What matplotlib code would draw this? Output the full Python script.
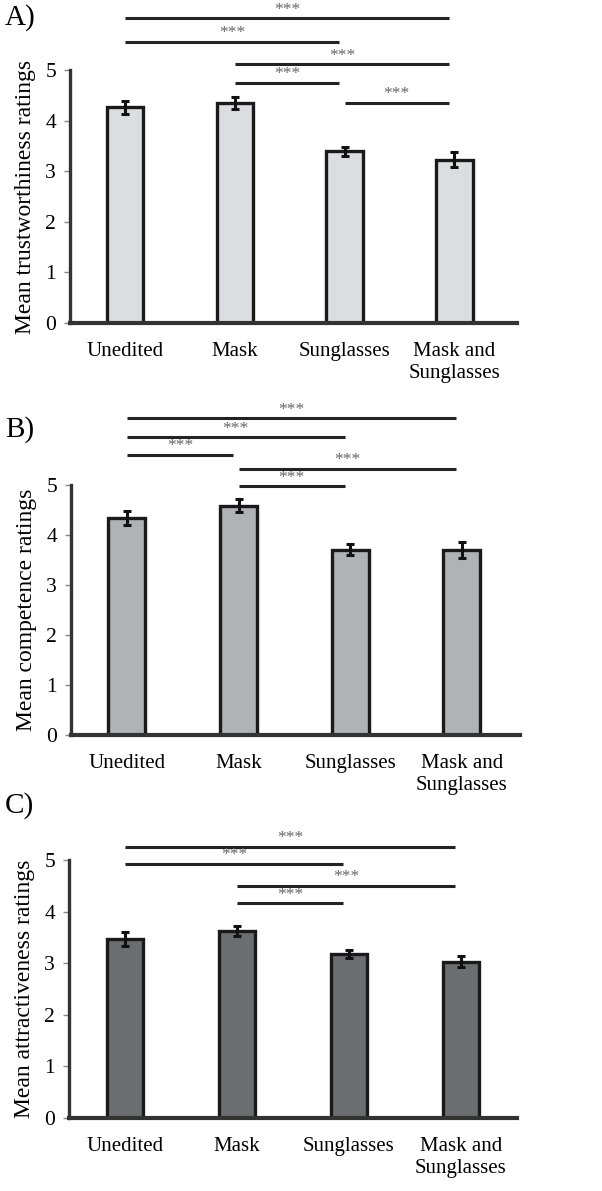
import matplotlib.pyplot as plt
import numpy as np

plt.rcParams['font.family'] = ['Liberation Serif', 'DejaVu Serif']

categories = ['Unedited', 'Mask', 'Sunglasses', 'Mask and\nSunglasses']

# panel A - trustworthiness
trust_mean = [4.26, 4.34, 3.39, 3.23]
trust_err = [0.13, 0.12, 0.09, 0.14]
trust_pairs = [(0, 3), (0, 2), (1, 3), (1, 2), (2, 3)]

# panel B - competence
comp_mean = [4.33, 4.58, 3.70, 3.70]
comp_err = [0.14, 0.13, 0.11, 0.16]
comp_pairs = [(0, 3), (0, 2), (0, 1), (1, 3), (1, 2)]

# panel C - attractiveness
attr_mean = [3.47, 3.63, 3.18, 3.03]
attr_err = [0.13, 0.10, 0.08, 0.11]
attr_pairs = [(0, 3), (0, 2), (1, 3), (1, 2)]

W, H = 602, 1191
fig = plt.figure(figsize=(W / 100, H / 100), dpi=100)


def panel(box, means, errs, pairs, heights, color, ylabel, letter, letter_y, xmax):
    # box in pixels: left, y of zero line, right, y of 5 line (from top)
    left, y0, right, y5 = box
    ax = fig.add_axes([left / W, 1 - y0 / H, (right - left) / W, (y0 - y5) / H])
    x = np.arange(len(means))
    ax.bar(x, means, width=0.33, color=color, edgecolor='#1a1a1a', linewidth=2.4, zorder=2)
    ax.errorbar(x, means, yerr=errs, fmt='none', ecolor='#111111', elinewidth=2.2,
                capsize=3, capthick=2.2, zorder=3)
    ax.set_xlim(-0.5, xmax)
    ax.set_ylim(0, 5)
    ax.set_yticks(range(6))
    ax.tick_params(axis='y', length=4, width=1, color='#888888', labelsize=15.5, pad=6)
    ax.tick_params(axis='x', length=0, labelsize=15, pad=14)
    ax.set_xticks(x)
    ax.set_xticklabels(categories, linespacing=1.2)
    for lab in ax.get_xticklabels():
        lab.set_verticalalignment('top')
    for s in ['top', 'right']:
        ax.spines[s].set_visible(False)
    ax.spines['left'].set_linewidth(2.4)
    ax.spines['left'].set_color('#333333')
    ax.spines['bottom'].set_linewidth(3)
    ax.spines['bottom'].set_color('#333333')
    ax.set_ylabel(ylabel, fontsize=17, labelpad=7)
    for (a, b), h in zip(pairs, heights):
        ax.plot([a, b - 0.05], [h, h], color='#222222', lw=2.2, clip_on=False,
                solid_capstyle='butt')
        ax.text((a + b - 0.05) / 2, h + 0.015, '***', ha='center', va='bottom',
                fontsize=12.5, color='#666666', clip_on=False)
    fig.text(5 / W, 1 - letter_y / H, letter, fontsize=21, va='center', ha='left')
    return ax


panel((70, 323, 517, 70), trust_mean, trust_err, trust_pairs,
      [6.02, 5.56, 5.11, 4.74, 4.35], '#dcdde0', 'Mean trustworthiness ratings',
      'A)', 18, 3.57)
panel((71, 735, 520, 485), comp_mean, comp_err, comp_pairs,
      [6.33, 5.95, 5.60, 5.32, 4.97], '#b1b2b6', 'Mean competence ratings',
      'B)', 430, 3.52)
panel((69, 1118, 517, 860), attr_mean, attr_err, attr_pairs,
      [5.25, 4.92, 4.50, 4.16], '#6c6d71', 'Mean attractiveness ratings',
      'C)', 806, 3.50)

fig.savefig('out.png', dpi=100)
